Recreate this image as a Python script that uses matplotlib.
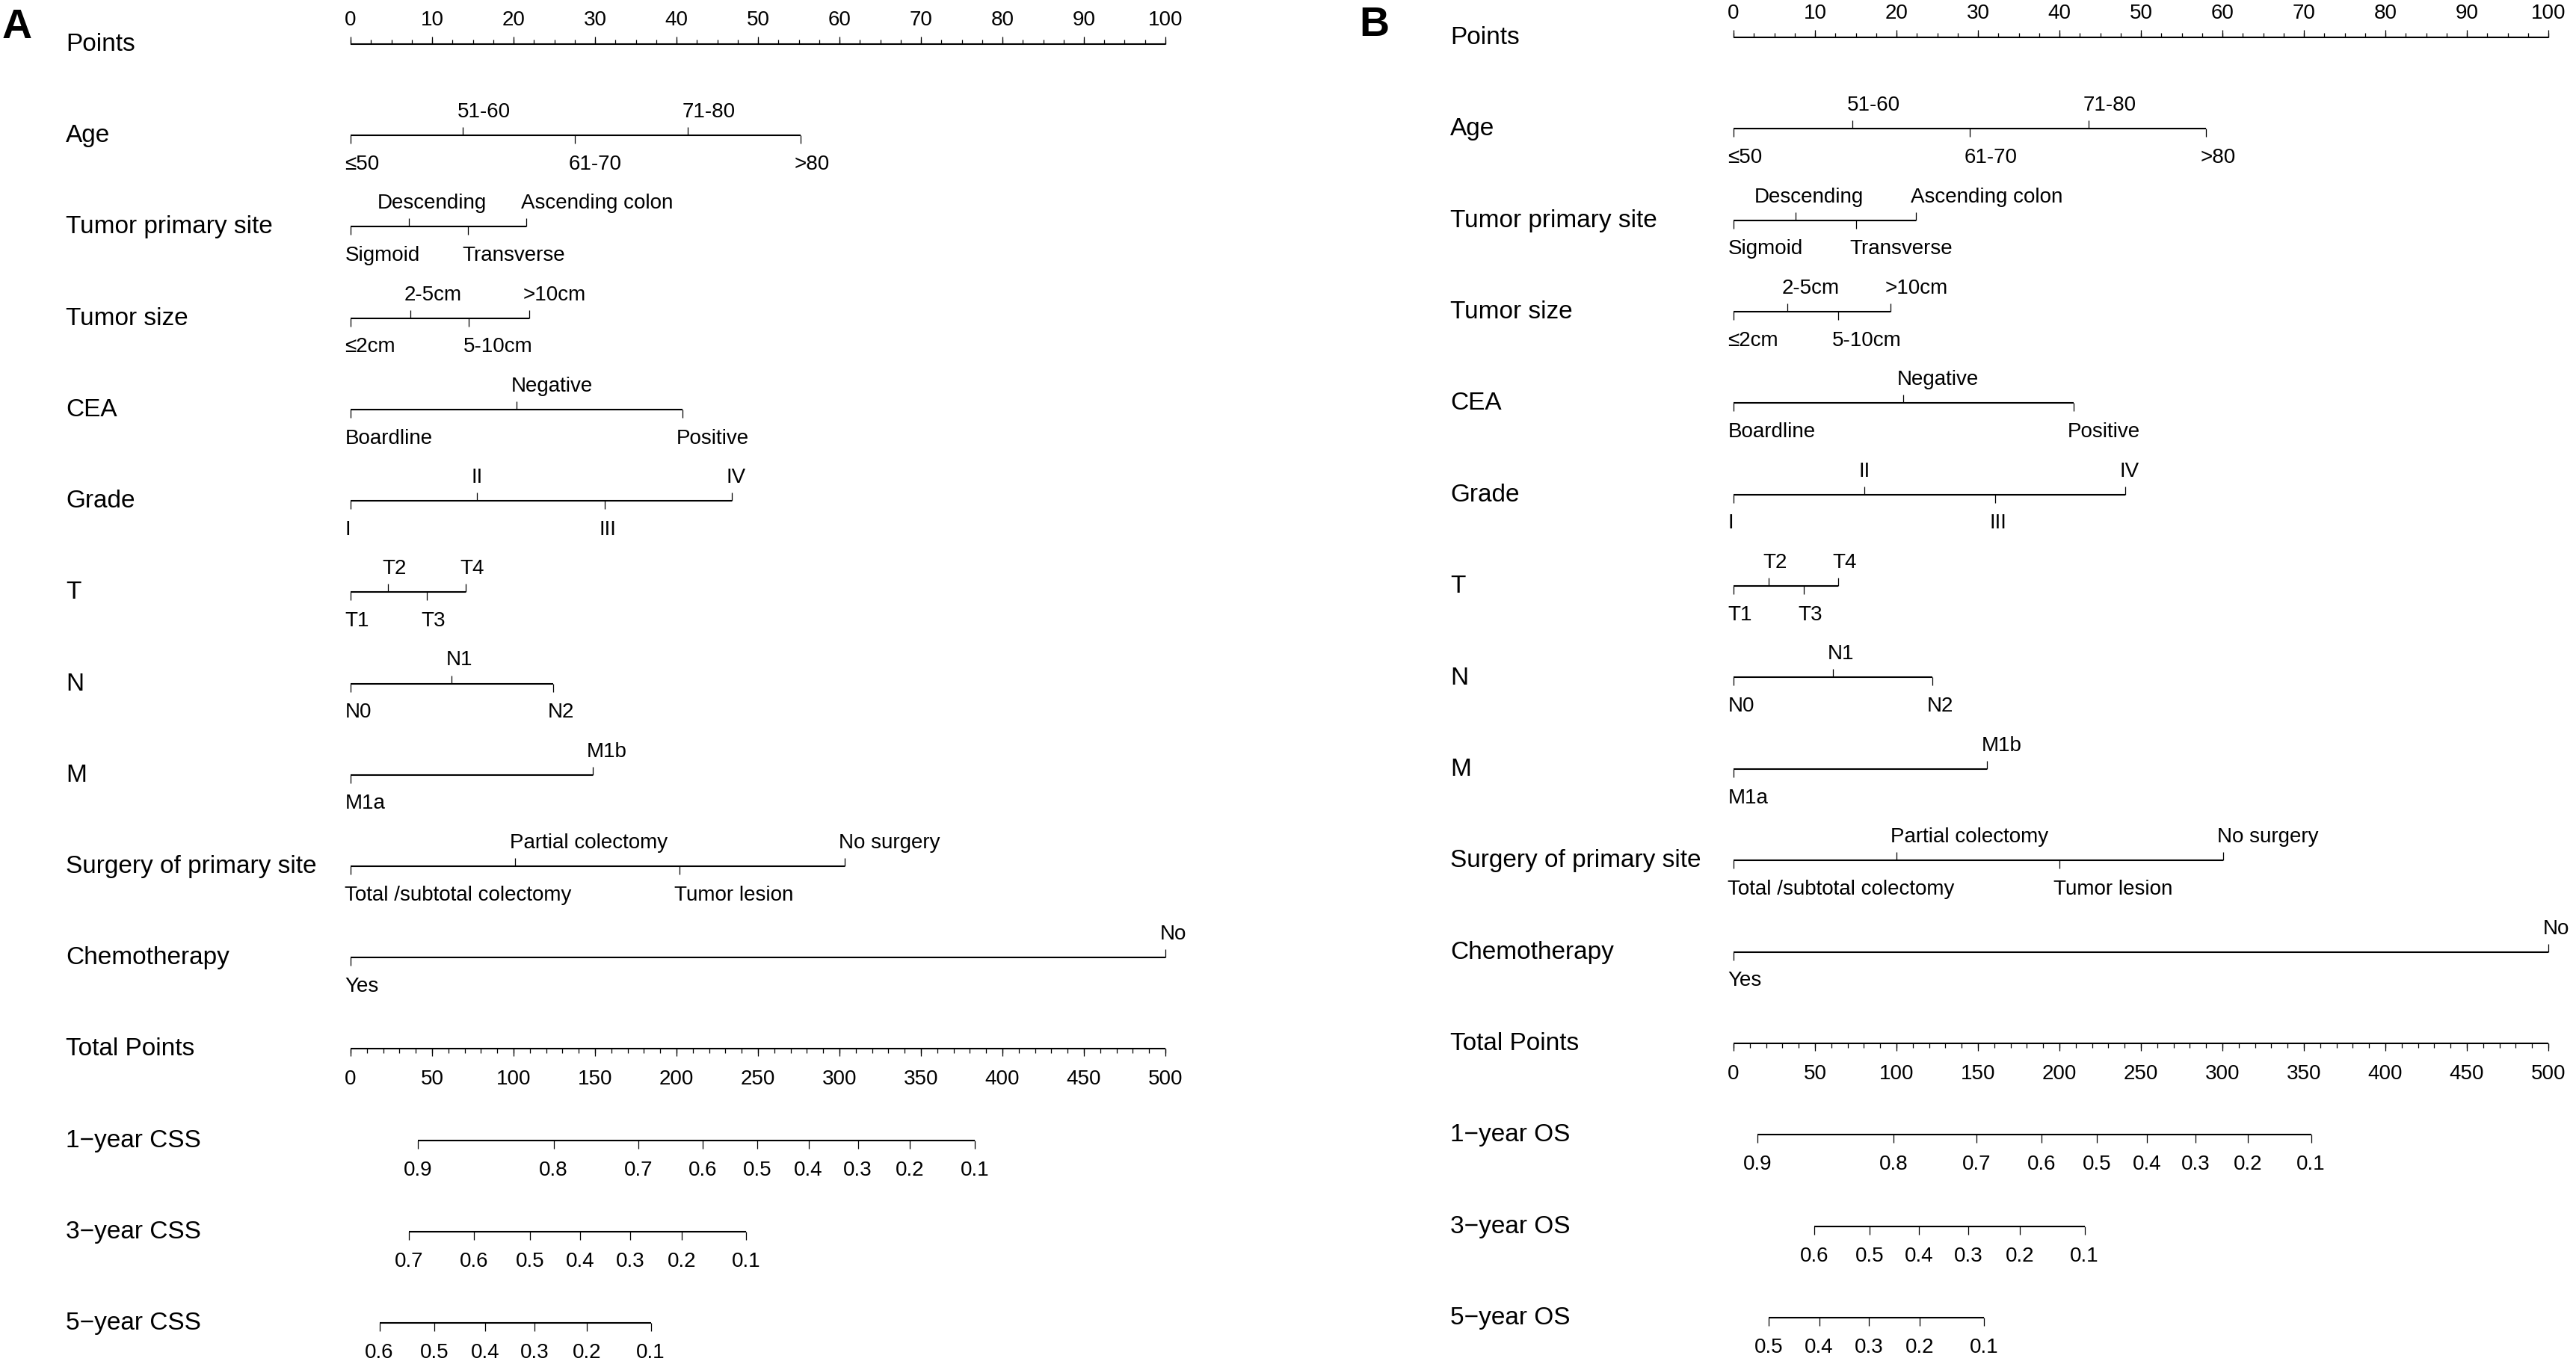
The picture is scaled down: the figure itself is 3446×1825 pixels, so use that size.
import numpy as np
import matplotlib
matplotlib.use("Agg")
import matplotlib.pyplot as plt
from matplotlib.markers import TICKUP, TICKDOWN

plt.rcParams["font.family"] = ["Liberation Sans", "DejaVu Sans"]

# ----------------------------------------------------------------------
# Data (A: CSS, B: OS)
# ----------------------------------------------------------------------
var_names = ["Age", "Tumor primary site", "Tumor size", "CEA", "Grade", "T", "N", "M",
             "Surgery of primary site", "Chemotherapy"]

age_levels = ["≤50", "51-60", "61-70", "71-80", ">80"]
site_levels = ["Sigmoid", "Descending", "Transverse", "Ascending colon"]
size_levels = ["≤2cm", "2-5cm", "5-10cm", ">10cm"]
cea_levels = ["Boardline", "Negative", "Positive"]
grade_levels = ["I", "II", "III", "IV"]
t_levels = ["T1", "T2", "T3", "T4"]
n_levels = ["N0", "N1", "N2"]
m_levels = ["M1a", "M1b"]
surgery_levels = ["Total /subtotal colectomy", "Partial colectomy", "Tumor lesion", "No surgery"]
chemo_levels = ["Yes", "No"]

# points per level, panel A
age_css = [0, 13.8, 27.5, 41.4, 55.2]
site_css = [0, 7.2, 14.4, 21.6]
size_css = [0, 7.3, 14.5, 21.9]
cea_css = [0, 20.4, 40.7]
grade_css = [0, 15.5, 31.2, 46.8]
t_css = [0, 4.6, 9.4, 14.1]
n_css = [0, 12.4, 24.9]
m_css = [0, 29.7]
surgery_css = [0, 20.2, 40.4, 60.6]
chemo_css = [0, 100]

# points per level, panel B
age_os = [0, 14.6, 29.0, 43.6, 58.0]
site_os = [0, 7.6, 15.0, 22.4]
size_os = [0, 6.6, 12.8, 19.3]
cea_os = [0, 20.8, 41.7]
grade_os = [0, 16.1, 32.1, 48.1]
t_os = [0, 4.3, 8.6, 12.8]
n_os = [0, 12.2, 24.4]
m_os = [0, 31.1]
surgery_os = [0, 20.0, 40.0, 60.1]
chemo_os = [0, 100]

# survival probability scales (total points where each probability sits)
css_1y_prob = [0.9, 0.8, 0.7, 0.6, 0.5, 0.4, 0.3, 0.2, 0.1]
css_1y_tp = [41.4, 124.6, 176.6, 216.0, 249.7, 281.0, 311.3, 343.1, 382.9]
css_3y_prob = [0.7, 0.6, 0.5, 0.4, 0.3, 0.2, 0.1]
css_3y_tp = [35.8, 75.7, 110.0, 140.8, 171.5, 203.3, 242.7]
css_5y_prob = [0.6, 0.5, 0.4, 0.3, 0.2, 0.1]
css_5y_tp = [17.7, 51.5, 82.7, 113.0, 144.8, 184.2]

os_1y_prob = [0.9, 0.8, 0.7, 0.6, 0.5, 0.4, 0.3, 0.2, 0.1]
os_1y_tp = [14.7, 98.1, 149.1, 189.1, 222.9, 253.8, 283.6, 315.5, 354.4]
os_3y_prob = [0.6, 0.5, 0.4, 0.3, 0.2, 0.1]
os_3y_tp = [49.5, 83.4, 113.7, 144.1, 175.9, 215.4]
os_5y_prob = [0.5, 0.4, 0.3, 0.2, 0.1]
os_5y_tp = [21.7, 52.6, 82.9, 114.3, 153.7]

MAX_POINTS = 100
MAX_TOTAL = 500

# ----------------------------------------------------------------------
# Layout (pixels of a 3446x1825 canvas)
# ----------------------------------------------------------------------
W, H = 3446, 1825
LW_AXIS = 1.5
LW_TICK = 0.9
FS_LAB = 24
FS_TICK = 20
TICK_LEN = 8       # pt
MINOR_LEN = 4.3
UP_OFF = 17.3      # baseline above line (pt)
DOWN_OFF = 18.5    # top of text below line (pt)
LAB_DX = -5.5      # default horizontal shift of level labels (pt)


def tp2x(tp):
    return np.asarray(tp) * MAX_POINTS / MAX_TOTAL


def row_label(ax, row, text, xfig):
    ax.annotate(text, xy=(xfig, row), xycoords=("figure fraction", "data"),
                xytext=(0, -6.5), textcoords="offset points",
                ha="left", va="baseline", fontsize=FS_LAB)


def cat_row(ax, row, pts, levels, nudges):
    ax.plot([pts[0], pts[-1]], [row, row], color="black", lw=LW_AXIS, solid_capstyle="butt")
    for i, (p, lab) in enumerate(zip(pts, levels)):
        up = i % 2 == 1
        dx = nudges.get(lab, LAB_DX)
        ax.plot([p], [row], ls="none", marker=TICKUP if up else TICKDOWN,
                ms=TICK_LEN, mew=LW_TICK, color="black")
        if up:
            ax.annotate(lab, xy=(p, row), xytext=(dx, UP_OFF), textcoords="offset points",
                        ha="left", va="baseline", fontsize=FS_TICK)
        else:
            ax.annotate(lab, xy=(p, row), xytext=(dx, -DOWN_OFF), textcoords="offset points",
                        ha="left", va="top", fontsize=FS_TICK)


def points_row(ax, row):
    major = np.arange(0, MAX_POINTS + 1, 10)
    minor = np.arange(0, MAX_POINTS + 0.1, 2.5)
    ax.plot([0, MAX_POINTS], [row, row], color="black", lw=LW_AXIS, solid_capstyle="butt")
    ax.plot(minor, [row] * len(minor), ls="none", marker=TICKUP, ms=MINOR_LEN, mew=LW_TICK, color="black")
    ax.plot(major, [row] * len(major), ls="none", marker=TICKUP, ms=TICK_LEN * 0.92, mew=LW_TICK, color="black")
    for v in major:
        ax.annotate(f"{v:g}", xy=(v, row), xytext=(0, 18), textcoords="offset points",
                    ha="center", va="baseline", fontsize=FS_TICK)


def total_row(ax, row):
    major = np.arange(0, MAX_TOTAL + 1, 50)
    minor = np.arange(0, MAX_TOTAL + 1, 10)
    ax.plot(tp2x([0, MAX_TOTAL]), [row, row], color="black", lw=LW_AXIS, solid_capstyle="butt")
    ax.plot(tp2x(minor), [row] * len(minor), ls="none", marker=TICKDOWN, ms=MINOR_LEN, mew=LW_TICK, color="black")
    ax.plot(tp2x(major), [row] * len(major), ls="none", marker=TICKDOWN, ms=TICK_LEN * 0.92, mew=LW_TICK, color="black")
    for v in major:
        ax.annotate(f"{v:g}", xy=(tp2x(v), row), xytext=(0, -20), textcoords="offset points",
                    ha="center", va="top", fontsize=FS_TICK)


def prob_row(ax, row, tps, probs):
    xs = tp2x(tps)
    ax.plot([xs[0], xs[-1]], [row, row], color="black", lw=LW_AXIS, solid_capstyle="butt")
    ax.plot(xs, [row] * len(xs), ls="none", marker=TICKDOWN, ms=TICK_LEN, mew=LW_TICK, color="black")
    for x, p in zip(xs, probs):
        ax.annotate(f"{p:g}", xy=(x, row), xytext=(0, -19.5), textcoords="offset points",
                    ha="center", va="top", fontsize=FS_TICK)


def draw_panel(fig, letter, x0, x1, y_top, y_bot, label_x, letter_xy,
               var_pts, prob_names, prob_tps, prob_vals, nudges):
    ax = fig.add_axes([x0 / W, (H - y_bot) / H, (x1 - x0) / W, (y_bot - y_top) / H])
    ax.set_xlim(0, MAX_POINTS)
    ax.set_ylim(14, 0)
    ax.axis("off")

    xfig = label_x / W
    row_label(ax, 0, "Points", xfig)
    points_row(ax, 0)

    all_levels = [age_levels, site_levels, size_levels, cea_levels, grade_levels,
                  t_levels, n_levels, m_levels, surgery_levels, chemo_levels]
    for i, (name, lev, pts) in enumerate(zip(var_names, all_levels, var_pts)):
        row = i + 1
        row_label(ax, row, name, xfig)
        cat_row(ax, row, pts, lev, nudges)

    row_label(ax, 11, "Total Points", xfig)
    total_row(ax, 11)

    for j, (name, tps, vals) in enumerate(zip(prob_names, prob_tps, prob_vals)):
        row = 12 + j
        row_label(ax, row, name, xfig)
        prob_row(ax, row, tps, vals)

    fig.text(letter_xy[0] / W, 1 - letter_xy[1] / H, letter, fontsize=40,
             fontweight="bold", ha="left", va="top")
    for a in ax.lines + ax.texts:
        a.set_clip_on(False)
    return ax


fig = plt.figure(figsize=(W / 100, H / 100), dpi=100)

# "Descending" is pushed left in the original to clear "Ascending colon"
draw_panel(fig, "A", 469, 1559, 59, 1770, 88, (3, 11),
           [age_css, site_css, size_css, cea_css, grade_css, t_css, n_css, m_css, surgery_css, chemo_css],
           ["1\u2212year CSS", "3\u2212year CSS", "5\u2212year CSS"],
           [css_1y_tp, css_3y_tp, css_5y_tp],
           [css_1y_prob, css_3y_prob, css_5y_prob],
           {"Descending": -31})

draw_panel(fig, "B", 2319, 3409, 50, 1763, 1940, (1818, 8),
           [age_os, site_os, size_os, cea_os, grade_os, t_os, n_os, m_os, surgery_os, chemo_os],
           ["1\u2212year OS", "3\u2212year OS", "5\u2212year OS"],
           [os_1y_tp, os_3y_tp, os_5y_tp],
           [os_1y_prob, os_3y_prob, os_5y_prob],
           {"Descending": -40})

fig.savefig("out.png", dpi=100, facecolor="white")
plt.close(fig)
